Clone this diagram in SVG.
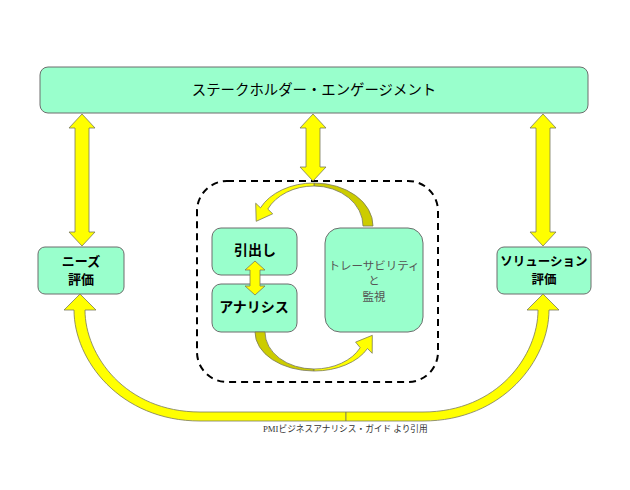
<svg xmlns="http://www.w3.org/2000/svg" width="630" height="490" viewBox="0 0 630 490">
<style>
.box{fill:#99FFCC;stroke:#6d6d6d;stroke-width:1}
.arr{fill:#FFFF00;stroke:#7a7a5a;stroke-width:0.8;stroke-linejoin:round}
.back{fill:#CCCC00;stroke:#7a7a5a;stroke-width:0.8;stroke-linejoin:round}
.t{font-family:"Noto Sans CJK JP","Noto Sans",sans-serif;fill:#000;text-anchor:middle}
.b{font-weight:bold}
.g{fill:#555}
</style>
<rect width="630" height="490" fill="#fff"/>
<g id="stakeholder">
<rect class="box" x="40" y="67" width="548" height="46" rx="8"/>
<text class="t" x="314" y="95" font-size="14.4">ステークホルダー・エンゲージメント</text>
</g>
<g id="needs">
<rect class="box" x="38" y="247" width="86" height="47" rx="7"/>
<text class="t b" x="81" y="266" font-size="13">ニーズ</text>
<text class="t b" x="81" y="284" font-size="13">評価</text>
</g>
<g id="solution">
<rect class="box" x="497" y="247" width="94" height="47" rx="7"/>
<text class="t b" x="544" y="266" font-size="12.5">ソリューション</text>
<text class="t b" x="544" y="284" font-size="12.5">評価</text>
</g>
<g id="cycle">
<rect x="197" y="181" width="241" height="201" rx="30" fill="none" stroke="#000" stroke-width="2" stroke-dasharray="7,5"/>
</g>
<g id="elicitation">
<rect class="box" x="212" y="228" width="85" height="47" rx="9"/>
<text class="t b" x="255" y="255" font-size="14">引出し</text>
</g>
<g id="analysis">
<rect class="box" x="212" y="284" width="85" height="48" rx="9"/>
<text class="t b" x="254" y="312" font-size="14">アナリシス</text>
</g>
<g id="trace">
<rect class="box" x="325" y="228" width="98" height="104" rx="15"/>
<text class="t g" x="374" y="270" font-size="11.5">トレーサビリティ</text>
<text class="t g" x="374" y="285" font-size="11.5">と</text>
<text class="t g" x="374" y="301" font-size="11.5">監視</text>
</g>
<g id="connectors">
<polygon class="arr" points="82,114 95,128 89,128 89,232 95,232 82,246 69,232 75,232 75,128 69,128"/>
<polygon class="arr" points="543,114 556,128 550,128 550,232 556,232 543,246 530,232 536,232 536,128 530,128"/>
<polygon class="arr" points="313,114 326,128 320,128 320,167 326,167 313,181 300,167 306,167 306,128 300,128"/>
<polygon class="arr" points="255,261 265,270 260,270 260,286 265,286 255,295 245,286 250,286 250,270 245,270"/>
<path class="back" d="M373,226 A59 43 0 0 0 314,183 L314,186 A49 40 0 0 1 363,226 Z"/>
<path class="arr" d="M314,183 A59 43 0 0 0 260.5,207.8 L255.7,203.2 L256.2,221.3 L272.7,213.8 L267.8,209.1 A51 40 0 0 1 314,186 Z"/>
<path class="back" d="M255,332 A59 39 0 0 0 314,371 L314,369 A49 37 0 0 1 265,332 Z"/>
<path class="arr" d="M314,371 A59 39 0 0 0 367.5,348.5 L372.2,353.3 L372.3,335.3 L355.6,342.1 L360.2,347.7 A51 37 0 0 1 314,369 Z"/>
<path class="arr" d="M346,421 L200,421 C120,421 74,360 74,310 L64,310 L80,294 L96,310 L85,310 C85,355 125,412 200,412 L346,412 Z"/>
<path class="arr" d="M346,421 L423,421 C503,421 549,360 549,310 L559,310 L543,294 L527,310 L538,310 C538,355 498,412 423,412 L346,412 Z"/>
</g>
<text x="263" y="432" font-size="8.7" fill="#333" font-family="'Noto Sans CJK JP',sans-serif"><tspan font-family="'Liberation Serif',serif">PMI</tspan>ビジネスアナリシス・ガイド より引用</text>
</svg>
